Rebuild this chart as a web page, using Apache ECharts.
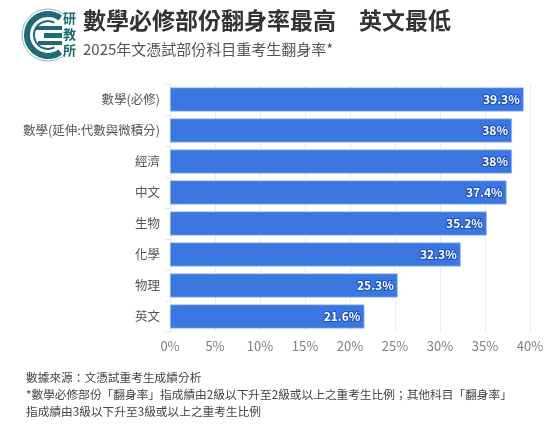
<!DOCTYPE html>
<html>
<head>
<meta charset="utf-8">
<script src="https://cdn.jsdelivr.net/npm/echarts@6/dist/echarts.min.js"></script>
<style>
  html, body { margin: 0; padding: 0; background: #fff; }
  #main { width: 554px; height: 441px; }
</style>
</head>
<body>
<div id="main"></div>
<script>
// 科目 / 翻身率
var subjects = ['數學(必修)', '數學(延伸:代數與微積分)', '經濟', '中文', '生物', '化學', '物理', '英文'];
var rates = [39.3, 38, 38, 37.4, 35.2, 32.3, 25.3, 21.6];
var xTicks = [0, 5, 10, 15, 20, 25, 30, 35, 40];

var FONT = '"Noto Sans CJK TC", "Noto Sans", sans-serif';
var TEAL = '#1f6b73';

var chart = echarts.init(document.getElementById('main'), null, { renderer: 'canvas' });

// logo 研教所
var logo = [
  { type: 'arc', shape: { cx: 48, cy: 35, r: 21, startAngle: Math.PI * 0.3, endAngle: Math.PI * 1.7 },
    style: { stroke: TEAL, lineWidth: 6, fill: null } },
  { type: 'arc', shape: { cx: 48, cy: 35, r: 14, startAngle: Math.PI * 0.35, endAngle: Math.PI * 1.65 },
    style: { stroke: TEAL, lineWidth: 2, fill: null } },
  { type: 'arc', shape: { cx: 48, cy: 35, r: 26, startAngle: Math.PI * 0.25, endAngle: Math.PI * 1.75 },
    style: { stroke: '#8fb7bb', lineWidth: 1, fill: null } },
  { type: 'rect', shape: { x: 36, y: 26, width: 26, height: 4 }, style: { fill: TEAL } },
  { type: 'rect', shape: { x: 44, y: 33, width: 18, height: 5 }, style: { fill: TEAL } },
  { type: 'rect', shape: { x: 38, y: 41, width: 24, height: 4 }, style: { fill: TEAL } },
  { type: 'text', left: 63, top: 10, style: { text: '研\n教\n所', fill: TEAL, font: 'bold 13px ' + FONT, lineHeight: 16 } }
];

var option = {
  animation: false,
  backgroundColor: '#ffffff',
  title: [
    {
      text: '數學必修部份翻身率最高　英文最低',
      left: 78, top: 4,
      textStyle: { fontFamily: FONT, fontSize: 23, fontWeight: 'bold', color: '#333' }
    },
    {
      text: '2025年文憑試部份科目重考生翻身率*',
      left: 78, top: 37,
      textStyle: { fontFamily: FONT, fontSize: 15, fontWeight: 'normal', color: '#555' }
    },
    {
      text: '數據來源：文憑試重考生成績分析\n*數學必修部份「翻身率」指成績由2級以下升至2級或以上之重考生比例；其他科目「翻身率」\n指成績由3級以下升至3級或以上之重考生比例',
      left: 21, top: 364,
      textStyle: { fontFamily: FONT, fontSize: 11.7, fontWeight: 'normal', color: '#444', lineHeight: 17 }
    }
  ],
  graphic: logo,
  grid: { left: 170, right: 24, top: 84, bottom: 109, containLabel: false },
  xAxis: {
    type: 'value',
    min: xTicks[0],
    max: xTicks[xTicks.length - 1],
    interval: 5,
    axisLine: { show: false },
    axisTick: { show: false },
    splitLine: { show: true, lineStyle: { color: '#ececec', width: 1 } },
    axisLabel: {
      formatter: '{value}%',
      color: '#808080',
      fontFamily: FONT,
      fontSize: 13,
      margin: 8
    }
  },
  yAxis: {
    type: 'category',
    inverse: true,
    data: subjects,
    axisLine: { show: false },
    axisTick: { show: true, length: 5, lineStyle: { color: '#e6e6e6' } },
    axisLabel: { color: '#555', fontFamily: FONT, fontSize: 12.5, margin: 10 }
  },
  series: [{
    type: 'bar',
    data: rates,
    barWidth: 24,
    itemStyle: { color: '#3b77e1', borderColor: '#a9c3f0', borderWidth: 0.6 },
    label: {
      show: true,
      position: 'insideRight',
      distance: 4,
      formatter: function (p) { return p.value + '%'; },
      color: '#fff',
      fontFamily: FONT,
      fontSize: 12,
      fontWeight: 'bold',
      textBorderColor: '#1f4fb8',
      textBorderWidth: 2
    }
  }]
};

chart.setOption(option);
</script>
</body>
</html>
